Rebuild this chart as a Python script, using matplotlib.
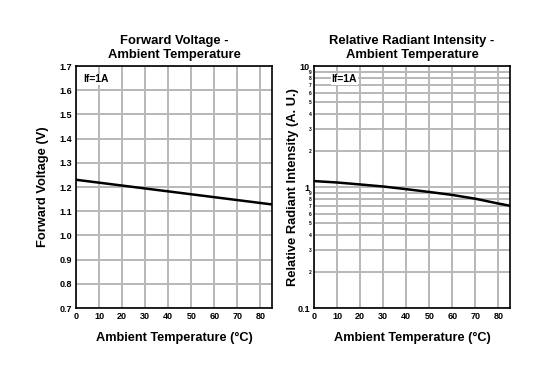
import matplotlib
matplotlib.use("Agg")
import matplotlib.pyplot as plt
from matplotlib.ticker import FixedLocator, FixedFormatter
import numpy as np

plt.rcParams['font.family'] = ['Liberation Sans', 'DejaVu Sans']
plt.rcParams['font.weight'] = 'bold'

# data
temp = [0, 10, 20, 30, 40, 50, 60, 70, 80, 85]
vf = [1.230, 1.218, 1.206, 1.194, 1.182, 1.170, 1.158, 1.146, 1.134, 1.128]
rel_int = [1.12, 1.09, 1.05, 1.01, 0.96, 0.91, 0.86, 0.80, 0.73, 0.70]

x_ticks = [0, 10, 20, 30, 40, 50, 60, 70, 80]
vf_ticks = [0.7, 0.8, 0.9, 1.0, 1.1, 1.2, 1.3, 1.4, 1.5, 1.6, 1.7]
int_major = [0.1, 1, 10]
int_major_labels = ['0.1', '1', '10']
int_minor = [m * d for d in (0.1, 1) for m in range(2, 10)]
int_minor_labels = [str(m) for d in (0.1, 1) for m in range(2, 10)]

grid_kw = dict(color='#b8b8b8', linewidth=1.4)

fig = plt.figure(figsize=(5.58, 3.72), dpi=100)
ax1 = fig.add_axes([0.1362, 0.172, 0.3513, 0.6505])
ax2 = fig.add_axes([0.5627, 0.172, 0.3513, 0.6505])

# left: forward voltage
ax1.plot(temp, vf, color='black', linewidth=1.8, zorder=3)
ax1.set_xlim(0, 85)
ax1.set_ylim(0.7, 1.7)
ax1.set_xticks(x_ticks)
ax1.set_yticks(vf_ticks)
ax1.set_yticklabels([f'{v:.1f}' for v in vf_ticks])
ax1.grid(True, **grid_kw)
ax1.set_title('Forward Voltage -\nAmbient Temperature', fontsize=9.4, fontweight='bold', pad=6, linespacing=1.2)
ax1.set_ylabel('Forward Voltage (V)', fontsize=9.3, fontweight='bold', labelpad=7)
ax1.text(0.035, 0.945, 'If=1A', transform=ax1.transAxes, fontsize=7.5, fontweight='bold',
         va='center', ha='left', zorder=4,
         bbox=dict(facecolor='white', edgecolor='none', pad=0.5))

# right: relative radiant intensity
ax2.plot(temp, rel_int, color='black', linewidth=1.8, zorder=3)
ax2.set_yscale('log')
ax2.set_xlim(0, 85)
ax2.set_ylim(0.1, 10)
ax2.set_xticks(x_ticks)
ax2.yaxis.set_major_locator(FixedLocator(int_major))
ax2.yaxis.set_major_formatter(FixedFormatter(int_major_labels))
ax2.yaxis.set_minor_locator(FixedLocator(int_minor))
ax2.yaxis.set_minor_formatter(FixedFormatter(int_minor_labels))
ax2.tick_params(axis='y', which='minor', labelsize=3.5, length=0, pad=2)
ax2.grid(True, which='both', **grid_kw)
ax2.set_title('Relative Radiant Intensity -\nAmbient Temperature', fontsize=9.4, fontweight='bold', pad=6, linespacing=1.2)
ax2.set_ylabel('Relative Radiant Intensity (A. U.)', fontsize=9.3, fontweight='bold', labelpad=-1)
ax2.text(0.09, 0.945, 'If=1A', transform=ax2.transAxes, fontsize=7.5, fontweight='bold',
         va='center', ha='left', zorder=4,
         bbox=dict(facecolor='white', edgecolor='none', pad=0.5))

for ax in (ax1, ax2):
    ax.set_axisbelow(True)
    ax.set_xlabel('Ambient Temperature (°C)', fontsize=9.2, fontweight='bold', labelpad=8)
    ax.tick_params(axis='both', which='major', labelsize=6.5, length=0, pad=3)
    for sp in ax.spines.values():
        sp.set_color('black')
        sp.set_linewidth(1.2)
    for lbl in ax.get_xticklabels() + ax.get_yticklabels():
        lbl.set_fontweight('bold')
    for lbl in ax.get_yticklabels(minor=True):
        lbl.set_fontweight('bold')

fig.savefig('out.png', dpi=100, facecolor='white')
